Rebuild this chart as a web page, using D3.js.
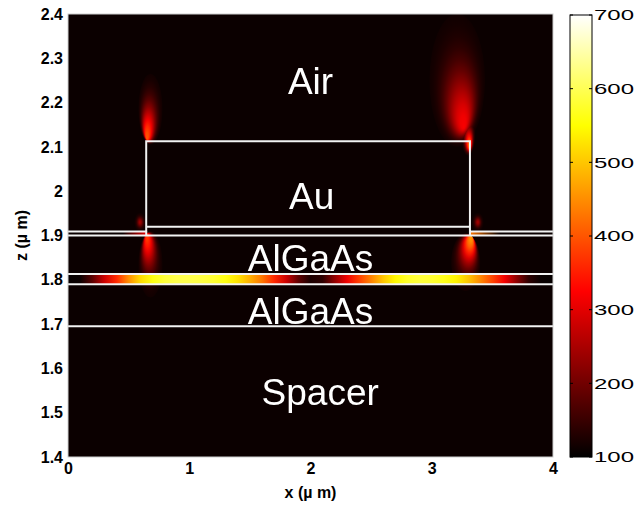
<!DOCTYPE html>
<html>
<head>
<meta charset="utf-8">
<script src="https://cdn.jsdelivr.net/npm/d3@7"></script>
<style>
  body { margin: 0; background: #fff; }
  text { font-family: "Liberation Sans", Arial, sans-serif; }
</style>
</head>
<body>
<svg id="chart" width="637" height="505"></svg>
<script>
// ---- data ----
var xTicks = [0, 1, 2, 3, 4];
var zTicks = [1.4, 1.5, 1.6, 1.7, 1.8, 1.9, 2, 2.1, 2.2, 2.3, 2.4];
var cbTicks = [100, 200, 300, 400, 500, 600, 700];

// field along the bright quantum-well layer (x in um, |E|^2)
var wellX = [0, 0.1, 0.2, 0.3, 0.4, 0.5, 0.6, 0.7, 0.8, 0.9, 1.0, 1.1, 1.2, 1.3, 1.4, 1.5, 1.6, 1.7, 1.8, 1.9, 2.0,
             2.1, 2.2, 2.3, 2.4, 2.5, 2.6, 2.7, 2.8, 2.9, 3.0, 3.1, 3.2, 3.3, 3.4, 3.5, 3.6, 3.7, 3.8, 3.9, 4.0];
var wellValues = [105, 110, 180, 280, 360, 450, 520, 560, 585, 595, 595, 590, 580, 560, 525, 480, 430, 360, 280, 185, 125,
                  140, 230, 310, 380, 440, 500, 545, 575, 585, 580, 565, 540, 500, 445, 385, 315, 225, 140, 108, 105];
var wellZ = [1.79, 1.813];

// hot spots at the metal corners
var spotX    = [0.68, 3.21, 3.3, 0.68, 0.595, 3.28, 3.38];
var spotZ    = [2.185, 2.25, 2.13, 1.835, 1.93, 1.84, 1.93];
var spotRx   = [0.1, 0.23, 0.06, 0.1, 0.05, 0.12, 0.05];
var spotRz   = [0.08, 0.15, 0.05, 0.075, 0.022, 0.065, 0.022];
var spotPeak = [400, 320, 430, 380, 240, 460, 240];
var spotFx   = [0.35, 0.62, 0.6, 0.35, 0.5, 0.7, 0.5];
var spotFy   = [0.92, 0.85, 0.8, 0.05, 0.5, 0.05, 0.5];

// thin cap layer glow next to the metal edges
var stripX = [[0.45, 0.645], [3.315, 3.56]];
var stripV = [[108, 300], [430, 108]];

// structure outlines
var layerLines = [1.9, 1.813, 1.79, 1.695];
var auX = [0.645, 3.315];
var auZ = [1.92, 2.113];
var capZ = 1.909;

var labels = ["Air", "Au", "AlGaAs", "AlGaAs", "Spacer"];
var labelX = [2, 2.01, 2, 2, 2.08];
var labelZ = [2.25, 1.99, 1.85, 1.73, 1.547];

var bgValue = 110;

// ---- layout ----
var margin = { top: 14, right: 84, bottom: 48, left: 68 },
  W = 637, H = 505,
  width = W - margin.left - margin.right,
  height = H - margin.top - margin.bottom;

var svg = d3.select("#chart");
var defs = svg.append("defs");

var x = d3.scaleLinear().domain([0, 4]).range([margin.left, margin.left + width]);
var z = d3.scaleLinear().domain([1.4, 2.4]).range([margin.top + height, margin.top]);

// MATLAB "hot" colormap over 100..700
var hot = d3.scaleLinear()
  .domain([100, 325, 550, 700])
  .range(["#000000", "#ff0000", "#ffff00", "#ffffff"])
  .clamp(true);

var plot = svg.append("g");

plot.append("clipPath").attr("id", "plotClip")
  .append("rect")
  .attr("x", x(0)).attr("y", z(2.4))
  .attr("width", width).attr("height", height);

var field = plot.append("g").attr("clip-path", "url(#plotClip)");

field.append("rect")
  .attr("x", x(0)).attr("y", z(2.4))
  .attr("width", width).attr("height", height)
  .attr("fill", hot(bgValue));

// hot spots (elliptic radial gradients)
spotX.forEach(function(sx, i) {
  var g = defs.append("radialGradient")
    .attr("id", "spot" + i)
    .attr("cx", 0.5).attr("cy", 0.5).attr("r", 0.5)
    .attr("fx", spotFx[i]).attr("fy", spotFy[i]);
  d3.range(0, 1.0001, 0.1).forEach(function(t) {
    var v = bgValue + (spotPeak[i] - bgValue) * Math.exp(-4 * t * t);
    g.append("stop")
      .attr("offset", t)
      .attr("stop-color", hot(v));
  });
  field.append("ellipse")
    .attr("cx", x(sx)).attr("cy", z(spotZ[i]))
    .attr("rx", x(sx + spotRx[i]) - x(sx))
    .attr("ry", z(spotZ[i] - spotRz[i]) - z(spotZ[i]))
    .attr("fill", "url(#spot" + i + ")")
    .style("mix-blend-mode", "lighten");
});

// cap layer glow strips
stripX.forEach(function(sx, i) {
  var g = defs.append("linearGradient").attr("id", "strip" + i);
  g.append("stop").attr("offset", 0).attr("stop-color", hot(stripV[i][0]));
  g.append("stop").attr("offset", 1).attr("stop-color", hot(stripV[i][1]));
  field.append("rect")
    .attr("x", x(sx[0])).attr("y", z(1.909))
    .attr("width", x(sx[1]) - x(sx[0]))
    .attr("height", z(1.9) - z(1.909))
    .attr("fill", "url(#strip" + i + ")")
    .style("mix-blend-mode", "lighten");
});

// bright well layer
var wellGrad = defs.append("linearGradient").attr("id", "wellGrad");
wellX.forEach(function(wx, i) {
  wellGrad.append("stop")
    .attr("offset", wx / 4)
    .attr("stop-color", hot(wellValues[i]));
});
field.append("rect")
  .attr("x", x(0)).attr("y", z(wellZ[1]))
  .attr("width", width).attr("height", z(wellZ[0]) - z(wellZ[1]))
  .attr("fill", "url(#wellGrad)");

// structure outlines
var lineColor = "#f2f2f2";
var outline = field.append("g")
  .attr("stroke", lineColor).attr("stroke-width", 2).attr("fill", "none");

layerLines.forEach(function(lz) {
  outline.append("line")
    .attr("x1", x(0)).attr("x2", x(4))
    .attr("y1", z(lz)).attr("y2", z(lz));
});
outline.append("path")
  .attr("d", "M" + x(0) + "," + z(capZ) + "H" + x(auX[0]) +
    "V" + z(auZ[1]) + "H" + x(auX[1]) + "V" + z(capZ) + "H" + x(4));
outline.append("line")
  .attr("x1", x(auX[0])).attr("x2", x(auX[1]))
  .attr("y1", z(auZ[0])).attr("y2", z(auZ[0]));
outline.append("line")
  .attr("x1", x(auX[0])).attr("x2", x(auX[0]))
  .attr("y1", z(capZ)).attr("y2", z(1.9));
outline.append("line")
  .attr("x1", x(auX[1])).attr("x2", x(auX[1]))
  .attr("y1", z(capZ)).attr("y2", z(1.9));

// layer names
field.selectAll("text.layer")
  .data(labels)
  .enter().append("text")
  .attr("class", "layer")
  .attr("x", function(d, i) { return x(labelX[i]); })
  .attr("y", function(d, i) { return z(labelZ[i]); })
  .attr("dy", "0.36em")
  .attr("text-anchor", "middle")
  .attr("fill", "#fff")
  .style("font-size", "37px")
  .text(function(d) { return d; });

// frame
plot.append("rect")
  .attr("x", x(0)).attr("y", z(2.4))
  .attr("width", width).attr("height", height)
  .attr("fill", "none").attr("stroke", "#cfcfcf").attr("stroke-width", 1);

// ---- axes ----
var xAxis = d3.axisBottom(x).tickValues(xTicks).tickSize(0).tickPadding(6)
  .tickFormat(d3.format("d"));
var zAxis = d3.axisLeft(z).tickValues(zTicks).tickSize(0).tickPadding(5)
  .tickFormat(function(d) { return d === 2 ? "2" : d3.format(".1f")(d); });

var gx = svg.append("g").attr("transform", "translate(0," + (margin.top + height) + ")").call(xAxis);
var gz = svg.append("g").attr("transform", "translate(" + margin.left + ",0)").call(zAxis);
[gx, gz].forEach(function(g) {
  g.select(".domain").remove();
  g.selectAll("text")
    .attr("fill", "#000")
    .style("font-size", "16px")
    .style("font-weight", "bold")
    .style("font-family", "'Liberation Sans', Arial, sans-serif");
});

svg.append("text")
  .attr("x", x(2)).attr("y", 498)
  .attr("text-anchor", "middle")
  .style("font-size", "16px").style("font-weight", "bold")
  .text("x (\u00b5 m)");

svg.append("text")
  .attr("transform", "translate(27," + z(1.9) + ") rotate(-90)")
  .attr("text-anchor", "middle")
  .style("font-size", "16px").style("font-weight", "bold")
  .text("z (\u00b5 m)");

// ---- colorbar ----
var cbX = 570, cbW = 22;
var cb = d3.scaleLinear().domain([100, 700]).range([457, 15]);
var cbGrad = defs.append("linearGradient").attr("id", "cbGrad")
  .attr("x1", 0).attr("y1", 1).attr("x2", 0).attr("y2", 0);
[100, 325, 550, 700].forEach(function(v) {
  cbGrad.append("stop").attr("offset", (v - 100) / 600).attr("stop-color", hot(v));
});
svg.append("rect")
  .attr("x", cbX).attr("y", cb(700))
  .attr("width", cbW).attr("height", cb(100) - cb(700))
  .attr("fill", "url(#cbGrad)")
  .attr("stroke", "#000").attr("stroke-width", 1);

var cbG = svg.append("g");
cbTicks.forEach(function(v) {
  cbG.append("line").attr("x1", cbX).attr("x2", cbX + 3)
    .attr("y1", cb(v)).attr("y2", cb(v)).attr("stroke", "#000");
  cbG.append("line").attr("x1", cbX + cbW - 3).attr("x2", cbX + cbW)
    .attr("y1", cb(v)).attr("y2", cb(v)).attr("stroke", "#000");
  // labels in the source are stretched wide and run off the right edge
  cbG.append("text")
    .attr("transform", "translate(" + (cbX + cbW + 2) + "," + cb(v) + ") scale(1.6,1)")
    .attr("dy", "0.36em")
    .style("font-size", "15px")
    .text(v);
});
</script>
</body>
</html>
